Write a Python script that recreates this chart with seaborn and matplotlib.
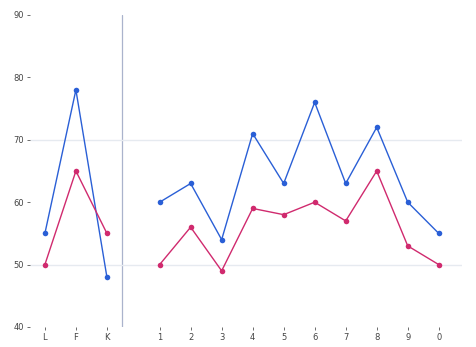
import numpy as np
import pandas as pd
import matplotlib
matplotlib.use("Agg")
import matplotlib.pyplot as plt
import seaborn as sns

# data
left_labels = ["L", "F", "K"]
right_labels = ["1", "2", "3", "4", "5", "6", "7", "8", "9", "0"]
blue_left = [55, 78, 48]
pink_left = [50, 65, 55]
blue_right = [60, 63, 54, 71, 63, 76, 63, 72, 60, 55]
pink_right = [50, 56, 49, 59, 58, 60, 57, 65, 53, 50]

BLUE = "#2a5fd6"
PINK = "#d02a6e"

# x positions: left block, then a gap after the separator
left_pos = np.arange(len(left_labels), dtype=float)
right_pos = 3.7 + np.arange(len(right_labels), dtype=float)

rows = []
for pos, b, p in zip(left_pos, blue_left, pink_left):
    rows.append((pos, b, "blue", "left"))
    rows.append((pos, p, "pink", "left"))
for pos, b, p in zip(right_pos, blue_right, pink_right):
    rows.append((pos, b, "blue", "right"))
    rows.append((pos, p, "pink", "right"))
df = pd.DataFrame(rows, columns=["pos", "value", "series", "group"])

sns.set_style("white")
fig = plt.figure(figsize=(4.77, 3.47), dpi=100)
ax = fig.add_axes([30 / 477, 20 / 347, 432 / 477, 312 / 347])

sns.lineplot(data=df, x="pos", y="value", hue="series", units="group",
             estimator=None, palette={"blue": BLUE, "pink": PINK},
             marker="o", markersize=4, markeredgewidth=0, linewidth=1,
             legend=False, ax=ax)

ax.axvline(2.5, color="#aab3cc", linewidth=0.9, zorder=0)
for y in [50, 70]:
    ax.axhline(y, color="#e6eaf0", linewidth=1, zorder=0)

ax.set_xlim(-0.48, 13.45)
ax.set_ylim(40, 90)
ax.set_yticks([40, 50, 60, 70, 80, 90])
ax.set_xticks(np.concatenate([left_pos, right_pos]))
ax.set_xticklabels(left_labels + right_labels)
ax.tick_params(axis="both", labelsize=6, labelcolor="#444444", colors="#555555",
               length=2.5, width=0.6, pad=2, bottom=True, left=True)
ax.set_xlabel("")
ax.set_ylabel("")
sns.despine(ax=ax, left=True, bottom=True)

fig.savefig("out.png", dpi=100)
